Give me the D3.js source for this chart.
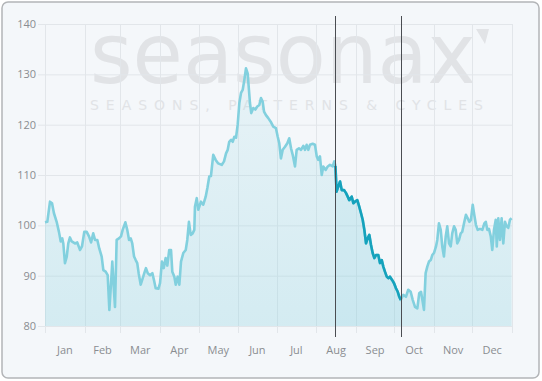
<!DOCTYPE html>
<html>
<head>
<meta charset="utf-8">
<script src="https://cdn.jsdelivr.net/npm/d3@7"></script>
<style>
  html, body { margin: 0; padding: 0; background: #fff; }
  svg { display: block; }
</style>
</head>
<body>
<script>
// seasonal pattern, x = day of year (0 = Jan 1), y = index value
const days = [
  0, 1.8, 3.9, 5.5, 7.0, 9.1, 10.9, 12.3, 13.5, 14.3, 15.6, 17.0, 18.2, 19.5, 20.9, 23.4, 25.2, 27.4, 28.9, 30.7,
  32.6, 34.4, 36.0, 37.7, 39.1, 40.9, 42.4, 44.3, 45.6, 47.4, 49.0, 50.3, 51.6, 52.6, 53.7, 54.7, 56.0, 57.8, 59.4, 60.7,
  62.8, 64.3, 65.7, 67.0, 68.2, 69.6, 70.9, 72.1, 73.2, 74.8, 76.4, 77.6, 78.9, 80.3, 82.1, 83.9, 85.2, 86.5, 88.6, 89.9,
  91.4, 92.8, 94.3, 95.6, 97.1, 98.5, 99.5, 101.1, 102.2, 103.7, 105.0, 106.3, 108.1, 110.0, 111.2, 112.5, 113.9, 115.4, 116.7, 117.2,
  118.6, 119.8, 121.9, 123.7, 125.6, 126.9, 128.4, 129.7, 131.5, 133.4, 135.4, 138.1, 139.9, 141.5, 142.8, 144.0, 145.4, 146.7, 148.0, 149.3,
  150.6, 151.9, 153.2, 154.5, 155.8, 157.1, 158.4, 159.4, 160.2, 161.2, 162.8, 164.4, 165.9, 167.5, 168.8, 170.1, 171.2, 172.7, 174.5, 176.4,
  178.4, 180.5, 181.9, 183.1, 184.4, 185.8, 187.6, 189.4, 190.9, 192.3, 193.6, 195.4, 196.7, 198.5, 200.1, 201.9, 203.2, 204.5, 205.8, 207.1,
  209.2, 211.0, 212.4, 213.6, 214.9, 216.3, 217.5, 219.4, 221.0, 222.7, 224.9, 226.1, 227.0, 227.9, 229.2, 230.6, 231.9, 233.7, 235.3, 236.6,
  237.8, 239.7, 241.0, 242.3, 244.1, 245.6, 247.0, 248.3, 249.6, 250.9, 252.2, 253.5, 254.8, 256.1, 257.4, 258.7, 260.5, 261.8, 263.2, 264.4,
  265.7, 267.1, 268.3, 269.6, 271.4, 272.8, 274.3, 275.7, 276.9, 278.0, 280.0, 282.1, 283.9, 285.8, 287.4, 289.2, 291.0, 292.5, 293.9, 295.2,
  296.2, 297.5, 298.8, 300.1, 301.5, 302.7, 304.0, 305.6, 306.6, 307.9, 309.3, 310.5, 311.8, 313.2, 314.4, 315.8, 317.1, 318.3, 319.7, 321.0,
  322.2, 323.6, 324.9, 326.1, 327.5, 329.0, 330.4, 331.6, 332.9, 334.3, 335.5, 336.8, 338.2, 340.0, 341.8, 343.4, 344.5, 345.7, 347.0, 348.4,
  349.6, 350.9, 352.3, 353.1, 354.3, 355.6, 356.9, 358.2, 359.5, 360.8, 362.1, 363.4, 364.7
]
const values = [
  100.6, 100.7, 104.7, 104.4, 102.4, 100.7, 98.7, 96.8, 97.4, 96.4, 92.5, 93.8, 96.4, 97.6, 96.8, 96.4, 96.6, 95.1, 95.8, 98.7,
  98.7, 97.8, 96.6, 98.4, 97.1, 97.1, 95.4, 93.8, 91.1, 90.8, 90.1, 83.2, 88.5, 92.8, 87.8, 83.8, 97.1, 97.4, 97.8, 99.1,
  100.6, 99.1, 97.1, 97.4, 96.4, 93.8, 93.1, 92.5, 90.5, 88.2, 89.5, 90.5, 91.5, 90.5, 90.1, 90.5, 89.1, 87.5, 87.4, 88.5,
  92.8, 91.5, 93.5, 92.0, 95.1, 95.1, 90.8, 89.8, 88.2, 89.8, 88.2, 92.8, 94.5, 95.1, 97.1, 100.7, 98.1, 98.4, 99.1, 103.7,
  105.4, 103.1, 104.7, 104.1, 105.7, 107.4, 109.7, 109.8, 114.0, 113.0, 112.3, 112.0, 112.7, 114.3, 115.0, 116.6, 117.0, 116.6, 117.6, 117.4,
  120.0, 124.3, 126.3, 126.9, 128.9, 131.2, 130.2, 126.9, 124.3, 122.3, 123.3, 123.0, 123.6, 123.9, 125.3, 124.6, 122.6, 121.9, 121.3, 120.6,
  119.6, 119.3, 117.6, 116.3, 113.3, 115.0, 115.6, 116.3, 117.3, 115.3, 114.0, 111.7, 115.0, 115.3, 115.0, 115.8, 115.0, 116.0, 115.0, 116.0,
  116.2, 116.0, 113.7, 113.0, 113.7, 110.0, 111.7, 111.0, 111.7, 112.0, 111.7, 112.7, 111.8, 106.7, 107.7, 108.7, 107.0, 107.0, 106.4, 105.7,
  105.0, 105.7, 104.4, 104.7, 105.0, 103.7, 102.4, 101.1, 99.1, 96.4, 97.4, 98.1, 96.1, 94.5, 93.5, 94.1, 94.1, 92.5, 93.1, 91.8,
  90.8, 89.8, 89.5, 89.8, 89.1, 88.5, 87.5, 86.8, 85.8, 85.2, 86.2, 85.8, 87.2, 86.8, 85.2, 83.8, 83.5, 86.5, 86.8, 84.8,
  83.2, 90.5, 91.8, 92.8, 93.1, 94.1, 94.5, 95.8, 97.1, 100.4, 99.1, 95.8, 93.8, 97.8, 99.8, 96.4, 95.8, 98.4, 99.8, 99.1,
  96.4, 97.1, 98.4, 98.7, 100.4, 102.1, 101.4, 100.7, 101.1, 104.1, 102.1, 100.1, 99.1, 99.3, 99.1, 100.4, 100.7, 99.1, 99.3, 97.8,
  95.1, 99.1, 101.1, 95.8, 101.4, 97.1, 101.4, 96.4, 100.7, 99.8, 99.5, 101.1, 101.4
]
const monthNames = ['Jan', 'Feb', 'Mar', 'Apr', 'May', 'Jun', 'Jul', 'Aug', 'Sep', 'Oct', 'Nov', 'Dec']
const monthStarts = [0, 31, 59, 90, 120, 151, 181, 212, 243, 273, 304, 334, 365]
const yTicks = [80, 90, 100, 110, 120, 130, 140]
const highlightStart = 227   // Aug 16
const highlightEnd = 278     // Oct 6

const width = 542
const height = 381
const plotLeft = 45, plotRight = 512, plotTop = 24, plotBottom = 326

const svg = d3.select('body')
  .append('svg')
  .attr('width', width)
  .attr('height', height)

const x = d3.scaleLinear().domain([0, 365]).range([plotLeft, plotRight])
const y = d3.scaleLinear().domain([80, 140]).range([plotBottom, plotTop])

const points = days.map((d, i) => ({ day: d, value: values[i] }))
const hlPoints = points.filter(p => p.day >= highlightStart && p.day <= highlightEnd)

// panel
svg.append('rect')
  .attr('x', 2).attr('y', 2)
  .attr('width', 537).attr('height', 376)
  .attr('rx', 6)
  .attr('fill', '#f4f7fa')
  .attr('stroke', '#b3b5b8')
  .attr('stroke-width', 1.5)

// watermark
const wm = svg.append('g').attr('fill', '#e1e3e6')
wm.append('text')
  .attr('x', 90).attr('y', 83)
  .attr('textLength', 386)
  .attr('lengthAdjust', 'spacingAndGlyphs')
  .style('font-family', 'DejaVu Sans')
  .style('font-size', '84px')
  .text('seasonax')
wm.append('path')
  .attr('d', 'M476,29 L489,29 L485,44 Z')
wm.append('text')
  .attr('x', 90).attr('y', 110)
  .attr('textLength', 393)
  .attr('lengthAdjust', 'spacing')
  .style('font-family', 'DejaVu Sans')
  .style('font-size', '14px')
  .text('SEASONS, PATTERNS & CYCLES')

// grid
const grid = svg.append('g').attr('stroke', '#e2e6ea').attr('stroke-width', 1)
grid.selectAll('line.h')
  .data(yTicks)
  .enter()
  .append('line')
  .attr('x1', plotLeft - 7).attr('x2', plotRight)
  .attr('y1', d => y(d) + 0.5).attr('y2', d => y(d) + 0.5)
grid.selectAll('line.v')
  .data(monthStarts)
  .enter()
  .append('line')
  .attr('x1', d => Math.round(x(d)) + 0.5).attr('x2', d => Math.round(x(d)) + 0.5)
  .attr('y1', plotTop).attr('y2', plotBottom + 7)

// area
const defs = svg.append('defs')
const grad = defs.append('linearGradient')
  .attr('id', 'fillGrad')
  .attr('x1', 0).attr('y1', 0).attr('x2', 0).attr('y2', 1)
grad.append('stop').attr('offset', '0%').attr('stop-color', '#8fd3e0').attr('stop-opacity', 0.12)
grad.append('stop').attr('offset', '100%').attr('stop-color', '#8fd3e0').attr('stop-opacity', 0.32)

const area = d3.area()
  .x(d => x(d.day))
  .y0(y(80))
  .y1(d => y(d.value))

svg.append('path')
  .attr('d', area(points))
  .attr('fill', 'url(#fillGrad)')
svg.append('path')
  .attr('d', area(hlPoints))
  .attr('fill', '#5cc0d3')
  .attr('opacity', 0.08)

const line = d3.line()
  .x(d => x(d.day))
  .y(d => y(d.value))

svg.append('path')
  .attr('d', line(points))
  .attr('fill', 'none')
  .attr('stroke', '#82d0de')
  .attr('stroke-width', 2.6)
  .attr('stroke-linejoin', 'round')

svg.append('path')
  .attr('d', line(hlPoints))
  .attr('fill', 'none')
  .attr('stroke', '#15a2bc')
  .attr('stroke-width', 2.6)
  .attr('stroke-linejoin', 'round')

// highlight markers
svg.selectAll('line.mark')
  .data([highlightStart, highlightEnd])
  .enter()
  .append('line')
  .attr('x1', d => Math.round(x(d)) + 0.5).attr('x2', d => Math.round(x(d)) + 0.5)
  .attr('y1', 16).attr('y2', 337)
  .attr('stroke', '#4a4d52')
  .attr('stroke-width', 1)

// labels
svg.selectAll('text.ylab')
  .data(yTicks)
  .enter()
  .append('text')
  .attr('x', 36)
  .attr('y', d => y(d) + 4)
  .attr('text-anchor', 'end')
  .attr('fill', '#8a8d91')
  .style('font-family', 'Open Sans')
  .style('font-size', '11px')
  .text(d => d)

svg.selectAll('text.mlab')
  .data(monthNames)
  .enter()
  .append('text')
  .attr('x', (d, i) => x((monthStarts[i] + monthStarts[i + 1]) / 2))
  .attr('y', 354)
  .attr('text-anchor', 'middle')
  .attr('fill', '#8a8d91')
  .style('font-family', 'Open Sans')
  .style('font-size', '11px')
  .text(d => d)
</script>
</body>
</html>
